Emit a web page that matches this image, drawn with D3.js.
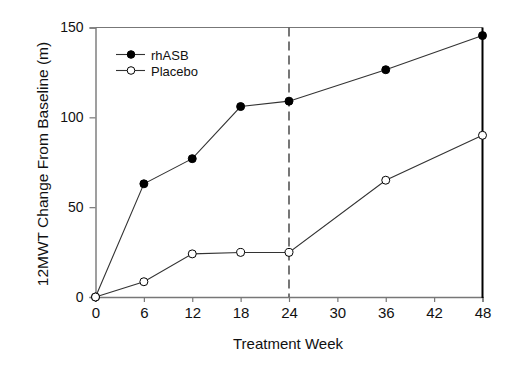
<!DOCTYPE html>
<html><head><meta charset="utf-8">
<script src="https://cdn.jsdelivr.net/npm/d3@7"></script>
<style>body{margin:0;background:#fff}svg{display:block}text{font-family:"Liberation Sans",Arial,sans-serif;fill:#111}</style>
</head><body><svg id="c" width="505" height="365"></svg>
<script>
const weeks = [0, 6, 12, 18, 24, 36, 48];
const rhASB = [0, 63, 77, 106, 109, 126.5, 145.5];
const placebo = [0, 8.5, 24, 24.8, 24.8, 65, 90];
const xTicks = [0, 6, 12, 18, 24, 30, 36, 42, 48];
const yTicks = [0, 50, 100, 150];
const seriesNames = ["rhASB", "Placebo"];
const cutoffWeek = 24;

const svg = d3.select("#c");
const L = 95.5, R = 482.5, T = 27.5, B = 297;
const x = d3.scaleLinear().domain([0, 48]).range([L, R]);
const y = d3.scaleLinear().domain([0, 150]).range([B, T]);

svg.append("line").attr("x1", L).attr("x2", R).attr("y1", T).attr("y2", T).attr("stroke", "#777").attr("stroke-width", 1.2);

const xa = svg.append("g").attr("transform", `translate(0,${B})`)
  .call(d3.axisBottom(x).tickValues(xTicks).tickSize(5).tickPadding(5).tickFormat(d3.format("d")));
const ya = svg.append("g").attr("transform", `translate(${L},0)`)
  .call(d3.axisLeft(y).tickValues(yTicks).tickSize(6).tickPadding(6).tickFormat(d3.format("d")));
[xa, ya].forEach(a => {
  a.select(".domain").attr("stroke", "#777").attr("stroke-width", 1.4);
  a.selectAll(".tick line").attr("stroke", "#777").attr("stroke-width", 1.2);
  a.selectAll(".tick text").attr("fill", "#111").style("font-family", "'Liberation Sans',Arial,sans-serif");
});
xa.selectAll(".tick text").attr("font-size", 15);
ya.selectAll(".tick text").attr("font-size", 14);
svg.append("line").attr("x1", R).attr("x2", R).attr("y1", T).attr("y2", B + 1).attr("stroke", "#000").attr("stroke-width", 2);

svg.append("line").attr("x1", x(cutoffWeek)).attr("x2", x(cutoffWeek)).attr("y1", T).attr("y2", B)
  .attr("stroke", "#555").attr("stroke-width", 1.6).attr("stroke-dasharray", "9,5");

const line = d3.line().x((d, i) => x(weeks[i])).y(d => y(d));
const series = [{name: seriesNames[0], vals: rhASB, fill: "#000"}, {name: seriesNames[1], vals: placebo, fill: "#fff"}];
series.forEach(s => {
  svg.append("path").attr("d", line(s.vals)).attr("fill", "none").attr("stroke", "#333").attr("stroke-width", 1.1);
  svg.selectAll(null).data(s.vals).enter().append("circle")
    .attr("cx", (d, i) => x(weeks[i])).attr("cy", d => y(d)).attr("r", 4)
    .attr("fill", s.fill).attr("stroke", "#000").attr("stroke-width", 1);
});

series.forEach((s, i) => {
  const ly = 54.5 + i * 16;
  svg.append("line").attr("x1", 116).attr("x2", 145).attr("y1", ly).attr("y2", ly).attr("stroke", "#333").attr("stroke-width", 1.1);
  svg.append("circle").attr("cx", 131).attr("cy", ly).attr("r", 3.8).attr("fill", s.fill).attr("stroke", "#000");
  svg.append("text").attr("x", 151).attr("y", ly + 5).attr("font-size", 13).text(s.name);
});

svg.append("text").attr("x", 288).attr("y", 349).attr("text-anchor", "middle").attr("font-size", 15).text("Treatment Week");
svg.append("text").attr("transform", `translate(47.5,164) rotate(-90)`).attr("text-anchor", "middle").attr("font-size", 15.5).text("12MWT Change From Baseline (m)");
</script></body></html>
